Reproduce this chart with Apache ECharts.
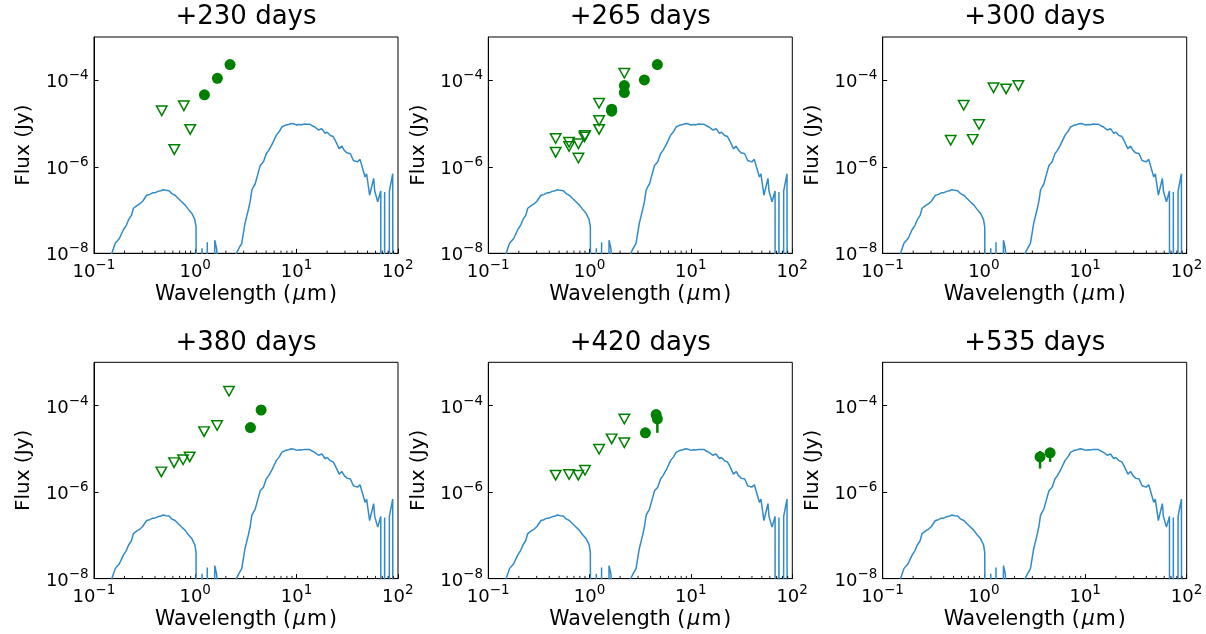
<!DOCTYPE html>
<html><head><meta charset="utf-8">
<script src="https://cdn.jsdelivr.net/npm/echarts@6/dist/echarts.min.js"></script>
<style>html,body{margin:0;padding:0;background:#fff}#c{width:1206px;height:634px}</style>
</head><body><div id="c"></div>
<script>
// ---------------- data ----------------
const panelTitles = ['+230 days', '+265 days', '+300 days', '+380 days', '+420 days', '+535 days'];
const xTickExps = [-1, 0, 1, 2];
const yTickExps = [-8, -6, -4];
const minorMultipliers = [2, 3, 4, 5, 6, 7, 8, 9];
const minorDecades = [0.1, 1, 10];

// model spectrum (wavelength in micron, flux in Jy); 1e-14 marks points far below the plotted range
const modelWave = [0.140, 0.150, 0.162, 0.178, 0.195, 0.209, 0.219, 0.234, 0.245, 0.263, 0.284, 0.302, 0.331, 0.355, 0.380, 0.398, 0.427, 0.457, 0.483, 0.513, 0.550, 0.585, 0.631, 0.679, 0.724, 0.794, 0.851, 0.925, 0.955, 0.989, 1.016, 1.045,
  1.10, 1.165, 1.175, 1.30, 1.312, 1.325, 1.50, 1.555, 1.62, 1.66, 1.73,
  2.45, 2.54, 2.69, 2.87, 3.09, 3.33, 3.48, 3.61, 3.76, 3.89, 4.12, 4.37, 4.70, 5.01, 5.30, 5.68, 6.31, 6.76, 7.13, 7.69, 8.30, 8.91, 9.55, 10.0, 10.6, 11.2, 11.9, 12.6, 13.0, 13.5, 14.2, 15.1, 16.4, 17.7, 19.1, 20.0, 21.5, 22.9, 24.0, 26.3, 27.9, 29.5, 31.3, 33.9, 36.3, 39.8, 42.2, 47.3, 49.0, 52.5, 57.5, 58.9, 63.1, 67.6, 67.9, 73.3, 73.8, 74.3, 81.7, 82.2, 88.7, 89.3, 95.5];
const modelFlux = [1e-14, 1.0e-8, 1.7e-8, 2.2e-8, 3.5e-8, 4.5e-8, 5.9e-8, 7.5e-8, 1.1e-7, 1.25e-7, 1.4e-7, 1.6e-7, 2.2e-7, 2.3e-7, 2.5e-7, 2.5e-7, 2.7e-7, 2.8e-7, 2.95e-7, 2.85e-7, 2.8e-7, 2.4e-7, 2.2e-7, 1.85e-7, 1.6e-7, 1.3e-7, 1.05e-7, 8.3e-8, 7.6e-8, 6.0e-8, 4.1e-8, 1e-14,
  1e-14, 1.3e-8, 1e-14, 1e-14, 1.8e-8, 1e-14, 1e-14, 2.0e-8, 1.3e-8, 6e-9, 1e-14,
  1e-14, 1.0e-8, 1.3e-8, 1.7e-8, 4.9e-8, 1.0e-7, 1.6e-7, 2.9e-7, 3.5e-7, 4.0e-7, 6.5e-7, 1.07e-6, 1.3e-6, 2.0e-6, 2.4e-6, 3.2e-6, 5.4e-6, 6.6e-6, 8.3e-6, 9.1e-6, 9.5e-6, 1.0e-5, 9.7e-6, 9.2e-6, 9.5e-6, 9.4e-6, 9.7e-6, 9.6e-6, 1.0e-5, 9.6e-6, 8.9e-6, 8.3e-6, 7.1e-6, 7.6e-6, 5.9e-6, 6.3e-6, 5.3e-6, 5.0e-6, 4.1e-6, 2.6e-6, 3.0e-6, 2.4e-6, 2.1e-6, 2.0e-6, 1.4e-6, 1.3e-6, 1.48e-6, 5.8e-7, 6.9e-7, 2.2e-7, 5.4e-7, 2.75e-7, 1.55e-7, 2.75e-7, 1e-14, 1e-14, 2.6e-7, 1e-14, 1e-14, 2.75e-7, 6.9e-7, 1e-14, 1e-14];

// +230 days
const lim230Wave = [0.466, 0.62, 0.77, 0.89];
const lim230Flux = [1.97e-5, 2.5e-6, 2.57e-5, 7.3e-6];
const det230Wave = [1.23, 1.65, 2.2];
const det230Flux = [4.6e-5, 1.11e-4, 2.3e-4];
const err230Wave = [], err230Low = [], err230High = [];
// +265 days
const lim265Wave = [0.462, 0.462, 0.627, 0.627, 0.775, 0.775, 0.887, 0.90, 1.24, 1.24, 1.24, 2.2];
const lim265Flux = [4.5e-6, 2.16e-6, 3.7e-6, 2.95e-6, 3.4e-6, 1.6e-6, 4.9e-6, 5.3e-6, 2.95e-5, 1.17e-5, 7.3e-6, 1.45e-4];
const det265Wave = [1.65, 1.65, 2.2, 2.2, 3.47, 4.66];
const det265Flux = [2.15e-5, 1.93e-5, 7.55e-5, 5.2e-5, 1.02e-4, 2.3e-4];
const err265Wave = [3.47], err265Low = [8.0e-5], err265High = [1.02e-4];
// +300 days
const lim300Wave = [0.469, 0.63, 0.773, 0.893, 1.24, 1.65, 2.18];
const lim300Flux = [4.1e-6, 2.65e-5, 4.3e-6, 9.5e-6, 6.7e-5, 6.3e-5, 7.55e-5];
const det300Wave = [];
const det300Flux = [];
const err300Wave = [], err300Low = [], err300High = [];
// +380 days
const lim380Wave = [0.462, 0.617, 0.757, 0.88, 1.22, 1.64, 2.15];
const lim380Flux = [2.93e-6, 4.8e-6, 5.6e-6, 6.5e-6, 2.5e-5, 3.47e-5, 2.14e-4];
const det380Wave = [3.5, 4.46];
const det380Flux = [3.1e-5, 7.9e-5];
const err380Wave = [], err380Low = [], err380High = [];
// +420 days
const lim420Wave = [0.462, 0.627, 0.773, 0.90, 1.24, 1.65, 2.2, 2.2];
const lim420Flux = [2.46e-6, 2.55e-6, 2.46e-6, 3.2e-6, 9.8e-6, 1.7e-5, 4.9e-5, 1.38e-5];
const det420Wave = [3.55, 4.53, 4.66];
const det420Flux = [2.34e-5, 6.2e-5, 4.9e-5];
const err420Wave = [4.66], err420Low = [2.34e-5], err420High = [4.9e-5];
// +535 days
const lim535Wave = [];
const lim535Flux = [];
const det535Wave = [3.57, 4.49];
const det535Flux = [6.5e-6, 8.1e-6];
const err535Wave = [3.57, 4.49], err535Low = [3.5e-6, 5.0e-6], err535High = [8.9e-6, 1.0e-5];

// ---------------- chart ----------------
const panels = [
  {limW: lim230Wave, limF: lim230Flux, detW: det230Wave, detF: det230Flux, eW: err230Wave, eL: err230Low, eH: err230High},
  {limW: lim265Wave, limF: lim265Flux, detW: det265Wave, detF: det265Flux, eW: err265Wave, eL: err265Low, eH: err265High},
  {limW: lim300Wave, limF: lim300Flux, detW: det300Wave, detF: det300Flux, eW: err300Wave, eL: err300Low, eH: err300High},
  {limW: lim380Wave, limF: lim380Flux, detW: det380Wave, detF: det380Flux, eW: err380Wave, eL: err380Low, eH: err380High},
  {limW: lim420Wave, limF: lim420Flux, detW: det420Wave, detF: det420Flux, eW: err420Wave, eL: err420Low, eH: err420High},
  {limW: lim535Wave, limF: lim535Flux, detW: det535Wave, detF: det535Flux, eW: err535Wave, eL: err535Low, eH: err535High}
];
const FONT = 'DejaVu Sans';
const GREEN = '#008000';
const BLUE = '#328ac7';
const GL = [94, 488.3, 882.7], GT = [37, 362.3], GW = 304, GH = 216.3;

function zip(a, b) { return a.map((v, i) => [v, b[i]]); }
function expLabel(v, list) {
  const e = Math.round(Math.log10(v));
  if (!list.includes(e) || Math.abs(Math.log10(v) - e) > 1e-6) return '';
  const s = e < 0 ? '\u2212' + (-e) : '' + e;
  return '{b|10}{s|' + s + '}{h| }';
}
const tickRich = {
  b: {fontSize: 18, fontFamily: FONT, color: '#000', lineHeight: 18, verticalAlign: 'bottom'},
  s: {fontSize: 13.5, fontFamily: FONT, color: '#000', lineHeight: 13.5, verticalAlign: 'top'},
  h: {fontSize: 1, fontFamily: FONT, color: '#000', lineHeight: 23, verticalAlign: 'middle'}
};
const minorTickData = [];
minorDecades.forEach(d => minorMultipliers.forEach(m => minorTickData.push([d * m, 1e-8])));

const grids = [], xAxes = [], yAxes = [], series = [], graphics = [];
panels.forEach((p, i) => {
  const col = i % 3, row = Math.floor(i / 3);
  grids.push({left: GL[col], top: GT[row], width: GW, height: GH, show: true, borderColor: '#000', borderWidth: 1, backgroundColor: 'transparent', containLabel: false, outerBoundsMode: 'none'});
  xAxes.push({
    gridIndex: i, type: 'log', logBase: 10, min: 0.1, max: 100, interval: 1,
    name: '{n|Wavelength (}{i|\u03bc}{m|m}{n|)}', nameLocation: 'middle', nameGap: 31,
    nameTextStyle: {fontSize: 20.5, fontFamily: FONT, color: '#000', rich: {
      n: {fontSize: 20.5, fontFamily: FONT, color: '#000'},
      i: {fontSize: 20.5, fontFamily: FONT, color: '#000', fontStyle: 'italic', padding: [0, 1, 0, 2]},
      m: {fontSize: 20.5, fontFamily: FONT, color: '#000', padding: [0, 2, 0, 0]}}},
    axisLine: {show: true, onZero: false, lineStyle: {color: '#000', width: 1}},
    axisTick: {show: true, inside: true, length: 4.5, lineStyle: {color: '#000', width: 1}},
    minorTick: {show: false},
    splitLine: {show: false},
    axisLabel: {show: true, margin: 5, showMinLabel: true, showMaxLabel: true, hideOverlap: false,
      formatter: v => expLabel(v, xTickExps), rich: tickRich}
  });
  yAxes.push({
    gridIndex: i, type: 'log', logBase: 10, min: 1e-8, max: 1e-3, interval: 2,
    name: 'Flux (Jy)', nameLocation: 'middle', nameGap: 60, nameRotate: 90,
    nameTextStyle: {fontSize: 20, fontFamily: FONT, color: '#000'},
    axisLine: {show: true, onZero: false, lineStyle: {color: '#000', width: 1}},
    axisTick: {show: true, inside: true, length: 4.5, lineStyle: {color: '#000', width: 1}},
    minorTick: {show: false},
    splitLine: {show: false},
    axisLabel: {show: true, margin: 5, showMaxLabel: false, hideOverlap: false,
      formatter: v => expLabel(v, yTickExps), rich: tickRich}
  });
  series.push({
    type: 'line', xAxisIndex: i, yAxisIndex: i, data: zip(modelWave, modelFlux),
    showSymbol: false, symbol: 'none', clip: true, silent: true,
    lineStyle: {color: BLUE, width: 1.5}, z: 2
  });
  series.push({
    type: 'custom', xAxisIndex: i, yAxisIndex: i, data: minorTickData, silent: true, z: 3,
    renderItem: (params, api) => {
      const pt = api.coord([api.value(0), api.value(1)]);
      return {type: 'line', shape: {x1: pt[0], y1: pt[1], x2: pt[0], y2: pt[1] - 2.7},
        style: {stroke: '#000', lineWidth: 0.9}};
    }
  });
  if (p.limW.length) series.push({
    type: 'scatter', xAxisIndex: i, yAxisIndex: i, data: zip(p.limW, p.limF),
    symbol: 'triangle', symbolRotate: 180, symbolSize: [10.5, 9.5], z: 5,
    itemStyle: {color: 'rgba(0,0,0,0)', borderColor: GREEN, borderWidth: 1.5, opacity: 1}
  });
  if (p.eW.length) series.push({
    type: 'custom', xAxisIndex: i, yAxisIndex: i, z: 6,
    data: p.eW.map((w, k) => [w, p.eL[k], p.eH[k]]),
    renderItem: (params, api) => {
      const a = api.coord([api.value(0), api.value(1)]);
      const b = api.coord([api.value(0), api.value(2)]);
      return {type: 'line', shape: {x1: a[0], y1: a[1], x2: b[0], y2: b[1]},
        style: {stroke: GREEN, lineWidth: 2.5}};
    }
  });
  if (p.detW.length) series.push({
    type: 'scatter', xAxisIndex: i, yAxisIndex: i, data: zip(p.detW, p.detF),
    symbol: 'circle', symbolSize: 11, z: 7,
    itemStyle: {color: GREEN, borderWidth: 0, opacity: 1}
  });
  graphics.push({
    type: 'text', x: GL[col] + GW / 2, y: GT[row] - 19.5, silent: true,
    style: {text: panelTitles[i], fontSize: 26, fontFamily: FONT, fill: '#000', align: 'center', verticalAlign: 'middle', textAlign: 'center', textVerticalAlign: 'middle'}
  });
});

const chart = echarts.init(document.getElementById('c'), null, {renderer: 'canvas'});
chart.setOption({
  animation: false,
  backgroundColor: '#fff',
  grid: grids, xAxis: xAxes, yAxis: yAxes, series: series, graphic: graphics
});
</script>
</body></html>
